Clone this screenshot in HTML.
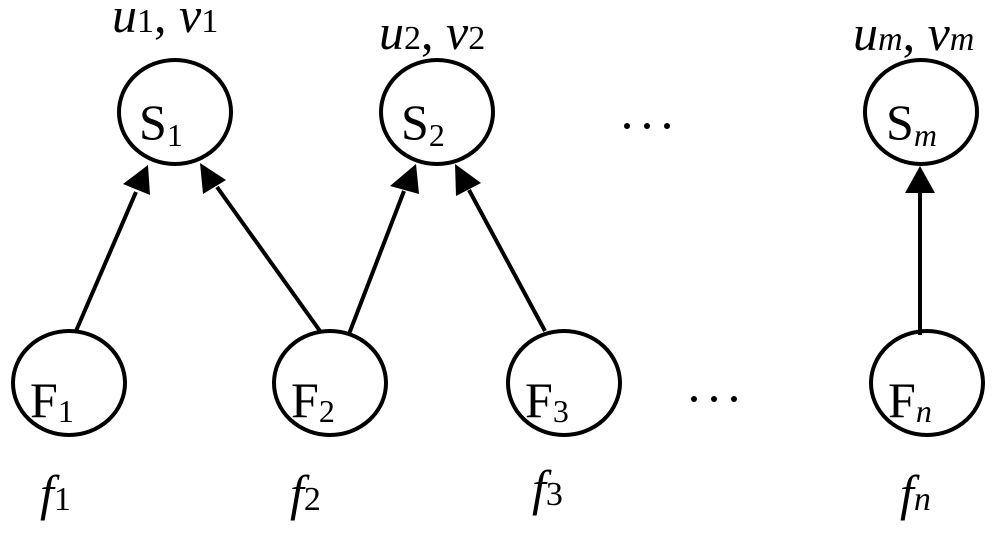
<!DOCTYPE html>
<html><head><style>body{margin:0;background:#fff}svg{display:block}text{font-family:"Liberation Serif",serif}</style></head><body>
<svg width="1000" height="549" viewBox="0 0 1000 549" xmlns="http://www.w3.org/2000/svg">
<g fill="none" stroke="#000" stroke-width="4">
<ellipse cx="175" cy="112" rx="56" ry="52"/>
<ellipse cx="437" cy="112" rx="56" ry="52"/>
<ellipse cx="921" cy="112" rx="56" ry="52"/>
<ellipse cx="69" cy="383" rx="56" ry="52"/>
<ellipse cx="330" cy="383" rx="56" ry="52"/>
<ellipse cx="564" cy="383" rx="56" ry="52"/>
<ellipse cx="927" cy="383" rx="56" ry="52"/>
<line x1="76" y1="331" x2="136" y2="192"/>
<line x1="320" y1="331" x2="217" y2="187"/>
<line x1="349" y1="334" x2="404" y2="191"/>
<line x1="545" y1="331" x2="469" y2="190"/>
<line x1="920" y1="335" x2="920" y2="193"/>
</g>
<g fill="#000">
<polygon points="148,165 150,195 123,184"/>
<polygon points="200,163 226,180 203,194"/>
<polygon points="416,164 419,194 390,186"/>
<polygon points="455,164 481,183 456,196"/>
<polygon points="920,166 935,193 905,193"/>
</g>
<g font-size="50" fill="#000">
<text x="139" y="139">S<tspan font-size="32" dy="7">1</tspan></text>
<text x="401" y="139">S<tspan font-size="32" dy="7">2</tspan></text>
<text x="886" y="139">S<tspan font-size="32" dy="7" font-style="italic">m</tspan></text>
<text x="30" y="417">F<tspan font-size="32" dy="5">1</tspan></text>
<text x="291" y="417">F<tspan font-size="32" dy="5">2</tspan></text>
<text x="525" y="417">F<tspan font-size="32" dy="5">3</tspan></text>
<text x="888" y="417">F<tspan font-size="32" dy="5" font-style="italic">n</tspan></text>
<text x="112" y="32" font-style="italic" font-size="50">u<tspan font-style="normal" font-size="34">1</tspan><tspan font-style="normal">, </tspan>v<tspan font-style="normal" font-size="34">1</tspan></text>
<text x="379" y="49" font-style="italic" font-size="50">u<tspan font-style="normal" font-size="34">2</tspan><tspan font-style="normal">, </tspan>v<tspan font-style="normal" font-size="34">2</tspan></text>
<text x="853" y="50" font-style="italic" font-size="50">u<tspan font-size="34">m</tspan><tspan font-style="normal">, </tspan>v<tspan font-size="34">m</tspan></text>
<text x="40" y="510" font-style="italic" font-size="50">f<tspan font-style="normal" font-size="34">1</tspan></text>
<text x="290" y="510" font-style="italic" font-size="50">f<tspan font-style="normal" font-size="34">2</tspan></text>
<text x="532" y="505" font-style="italic" font-size="50">f<tspan font-style="normal" font-size="34">3</tspan></text>
<text x="900" y="510" font-style="italic" font-size="50">f<tspan font-size="34">n</tspan></text>
</g>
<g fill="#000">
<circle cx="627" cy="126" r="3"/><circle cx="647" cy="126" r="3"/><circle cx="667" cy="126" r="3"/>
<circle cx="694" cy="399" r="3"/><circle cx="714" cy="399" r="3"/><circle cx="734" cy="399" r="3"/>
</g>
</svg>
</body></html>
